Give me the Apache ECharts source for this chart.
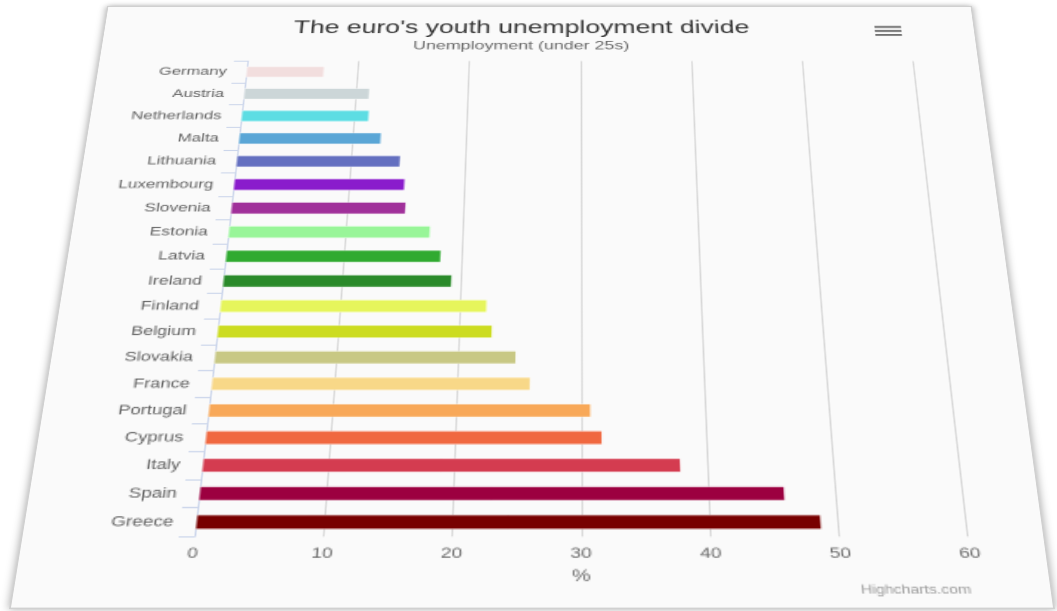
<!DOCTYPE html>
<html>
<head>
<meta charset="utf-8">
<script src="https://cdn.jsdelivr.net/npm/echarts@6/dist/echarts.min.js"></script>
<style>
html,body{margin:0;padding:0;background:#ffffff;width:1057px;height:611px;overflow:hidden;}
#card{position:absolute;left:0;top:0;width:590px;height:520px;background:#fafafa;
  border:0.6px solid #d0d0d0;box-sizing:border-box;transform-origin:0 0;
  box-shadow:0 0 5px rgba(0,0,0,0.35);}
#chart{position:absolute;left:0;top:0;width:590px;height:520px;}
</style>
</head>
<body>
<div id="card"><div id="chart"></div></div>
<script>
// ---- data ----
const categories = ['Germany','Austria','Netherlands','Malta','Lithuania','Luxembourg','Slovenia','Estonia','Latvia','Ireland','Finland','Belgium','Slovakia','France','Portugal','Cyprus','Italy','Spain','Greece'];
const values = [7.0, 11.2, 11.3, 12.5, 14.3, 14.8, 15.0, 17.2, 18.2, 19.2, 22.2, 22.7, 24.7, 25.9, 30.8, 31.7, 37.9, 46.0, 48.7];
const barColors = ['#f2dede','#ccd6d8','#5ddde3','#5aa6d6','#6470c0','#8a1ccc','#a0309a','#98f598','#30aa30','#2a8a2a','#e6f55c','#ccdc20','#c8c884','#f8d888','#f8a858','#f06840','#d43c50','#9c0040','#780000'];
const xTicks = [0, 10, 20, 30, 40, 50, 60];
const titleText = "The euro's youth unemployment divide";
const subtitleText = 'Unemployment (under 25s)';
const axisName = '%';
const creditText = 'Highcharts.com';

// ---- perspective of the card ----
const W = 590, H = 520;
const src = [[0,0],[W,0],[0,H],[W,H]];
const dst = [[107,6],[972,6],[9,609],[1055,609]];
function solve(A, b){
  const n = b.length;
  for (let i=0;i<n;i++){
    let p=i; for(let r=i+1;r<n;r++) if(Math.abs(A[r][i])>Math.abs(A[p][i])) p=r;
    [A[i],A[p]]=[A[p],A[i]]; [b[i],b[p]]=[b[p],b[i]];
    for(let r=0;r<n;r++){ if(r===i) continue; const f=A[r][i]/A[i][i];
      for(let c=i;c<n;c++) A[r][c]-=f*A[i][c]; b[r]-=f*b[i]; }
  }
  return b.map((v,i)=>v/A[i][i]);
}
(function(){
  const A=[], b=[];
  for(let i=0;i<4;i++){
    const [x,y]=src[i], [X,Y]=dst[i];
    A.push([x,y,1,0,0,0,-x*X,-y*X]); b.push(X);
    A.push([0,0,0,x,y,1,-x*Y,-y*Y]); b.push(Y);
  }
  const h = solve(A,b);
  const m = [h[0],h[3],0,h[6], h[1],h[4],0,h[7], 0,0,1,0, h[2],h[5],0,1];
  document.getElementById('card').style.transform = 'matrix3d(' + m.join(',') + ')';
})();

// ---- chart ----
const font = 'Liberation Sans, Arial, Helvetica, sans-serif';
const chart = echarts.init(document.getElementById('chart'), null, {renderer:'canvas', devicePixelRatio: 2});
chart.setOption({
  animation: false,
  backgroundColor: 'transparent',
  textStyle: {fontFamily: font},
  title: [
    {text: titleText, left: 282, top: 13, textAlign: 'center', padding: 0,
     textStyle: {fontSize: 18, fontWeight: 'normal', color: '#333333', fontFamily: font}},
    {text: subtitleText, left: 282, top: 34, textAlign: 'center', padding: 0,
     textStyle: {fontSize: 12, fontWeight: 'normal', color: '#666666', fontFamily: font}},
    {text: creditText, right: 47, top: 501, padding: 0,
     textStyle: {fontSize: 9, fontWeight: 'normal', color: '#999999', fontFamily: font}}
  ],
  graphic: [
    {type:'rect', shape:{x:521, y:19.8, width:18, height:1.8}, style:{fill:'#666'}},
    {type:'rect', shape:{x:521, y:23.9, width:18, height:1.8}, style:{fill:'#666'}},
    {type:'rect', shape:{x:521, y:28.0, width:18, height:1.8}, style:{fill:'#666'}}
  ],
  grid: {left: 99, right: 45.4, top: 55.4, bottom: 53.8, containLabel: false},
  xAxis: {
    type: 'value', min: xTicks[0], max: xTicks[xTicks.length-1], interval: xTicks[1]-xTicks[0],
    name: axisName, nameLocation: 'middle', nameGap: 12,
    nameTextStyle: {fontSize: 12, color: '#666666', fontFamily: font},
    axisLine: {show: false}, axisTick: {show: false},
    axisLabel: {fontSize: 11, color: '#666666', margin: 7.5, fontFamily: font},
    splitLine: {show: true, lineStyle: {color: '#d8d8d8', width: 1}}
  },
  yAxis: {
    type: 'category', data: categories, inverse: true,
    axisLine: {show: true, lineStyle: {color: '#ccd6eb', width: 1}},
    axisTick: {show: true, length: 9, alignWithLabel: false, lineStyle: {color: '#ccd6eb'}},
    axisLabel: {fontSize: 11, color: '#606060', margin: 13, fontFamily: font},
    splitLine: {show: false}
  },
  series: [{
    type: 'bar', barWidth: '50%',
    data: values.map((v,i)=>({value: v, itemStyle: {color: barColors[i], borderColor:'#ffffff', borderWidth: 0.4}}))
  }]
});
</script>
</body>
</html>
